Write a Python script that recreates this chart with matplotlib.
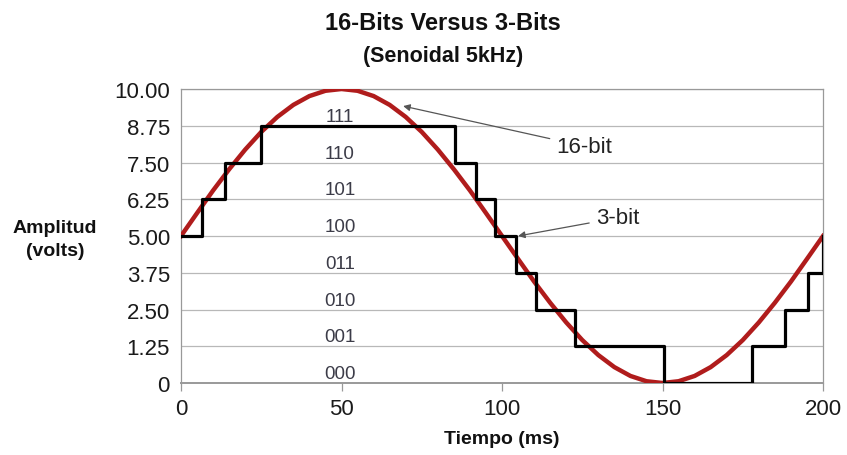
import matplotlib
matplotlib.use("Agg")
import matplotlib.pyplot as plt

# 16-bit (smooth) signal, read at 5 ms intervals
t16 = [0, 5, 10, 15, 20, 25, 30, 35, 40, 45, 50, 55, 60, 65, 70, 75, 80, 85, 90, 95,
       100, 105, 110, 115, 120, 125, 130, 135, 140, 145, 150, 155, 160, 165, 170, 175,
       180, 185, 190, 195, 200]
v16 = [5.00, 5.78, 6.55, 7.27, 7.94, 8.54, 9.05, 9.46, 9.76, 9.94, 10.00, 9.94, 9.76,
       9.46, 9.05, 8.54, 7.94, 7.27, 6.55, 5.78, 5.00, 4.22, 3.45, 2.73, 2.06, 1.46,
       0.95, 0.54, 0.24, 0.06, 0.00, 0.06, 0.24, 0.54, 0.95, 1.46, 2.06, 2.73, 3.45,
       4.22, 5.00]

# 3-bit quantised signal (step changes)
t3 = [0, 6.6, 13.7, 24.8, 85.4, 91.8, 97.8, 104.3, 110.5, 122.7, 150.6, 178.0, 188.0,
      195.4, 200]
v3 = [5.0, 6.25, 7.5, 8.75, 7.5, 6.25, 5.0, 3.75, 2.5, 1.25, 0.0, 1.25, 2.5, 3.75, 5.0]

code_labels = ["000", "001", "010", "011", "100", "101", "110", "111"]
code_levels = [0.0, 1.25, 2.5, 3.75, 5.0, 6.25, 7.5, 8.75]

yticks = [0, 1.25, 2.5, 3.75, 5.0, 6.25, 7.5, 8.75, 10.0]
ytick_labels = ["0", "1.25", "2.50", "3.75", "5.00", "6.25", "7.50", "8.75", "10.00"]
xticks = [0, 50, 100, 150, 200]

plt.rcParams['font.family'] = ['Liberation Sans', 'DejaVu Sans']

fig = plt.figure(figsize=(8.47, 4.56), dpi=100)
ax = fig.add_axes([0.2137, 0.1579, 0.758, 0.6447])

ax.set_xlim(0, 200)
ax.set_ylim(0, 10)
ax.set_yticks(yticks)
ax.set_yticklabels(ytick_labels)
ax.set_xticks(xticks)
ax.tick_params(axis='both', labelsize=16, colors='#999999', labelcolor='#1a1a1a',
               width=0.9, direction='out')
ax.tick_params(axis='y', length=0, pad=8)
ax.tick_params(axis='x', length=6, pad=5)
ax.grid(axis='y', color='#b8b8b8', linewidth=0.9)
for s in ax.spines.values():
    s.set_color('#999999')
    s.set_linewidth(0.9)
ax.spines['bottom'].set_linewidth(1.4)

ax.plot(t16, v16, color='#b01c1c', linewidth=3.2, zorder=3)
ax.plot(t3, v3, color='black', linewidth=2.3, drawstyle='steps-post', zorder=4)

for lab, lv in zip(code_labels, code_levels):
    ax.text(49.5, lv + 0.32, lab, ha='center', va='center', fontsize=13.5,
            color='#3c3c48', zorder=2)

ax.annotate("16-bit", xy=(69.2, 9.42), xytext=(117, 8.05), fontsize=16,
            color='#222222', ha='left', va='center',
            arrowprops=dict(arrowstyle='-|>', color='#555555', lw=0.9,
                            mutation_scale=10, shrinkA=3, shrinkB=0))
ax.annotate("3-bit", xy=(105, 5.0), xytext=(129.3, 5.62), fontsize=16,
            color='#222222', ha='left', va='center',
            arrowprops=dict(arrowstyle='-|>', color='#555555', lw=0.9,
                            mutation_scale=10, shrinkA=3, shrinkB=0))

fig.text(0.523, 0.948, "16-Bits Versus 3-Bits", ha='center', va='center',
         fontsize=17, fontweight='bold', color='#111111')
fig.text(0.523, 0.876, "(Senoidal 5kHz)", ha='center', va='center',
         fontsize=15.5, fontweight='bold', color='#111111')
fig.text(0.065, 0.474, "Amplitud\n(volts)", ha='center', va='center',
         fontsize=14, fontweight='bold', color='#111111', linespacing=1.45)
ax.set_xlabel("Tiempo (ms)", fontsize=14, fontweight='bold', color='#111111',
              labelpad=8)

fig.savefig("out.png", dpi=100)
